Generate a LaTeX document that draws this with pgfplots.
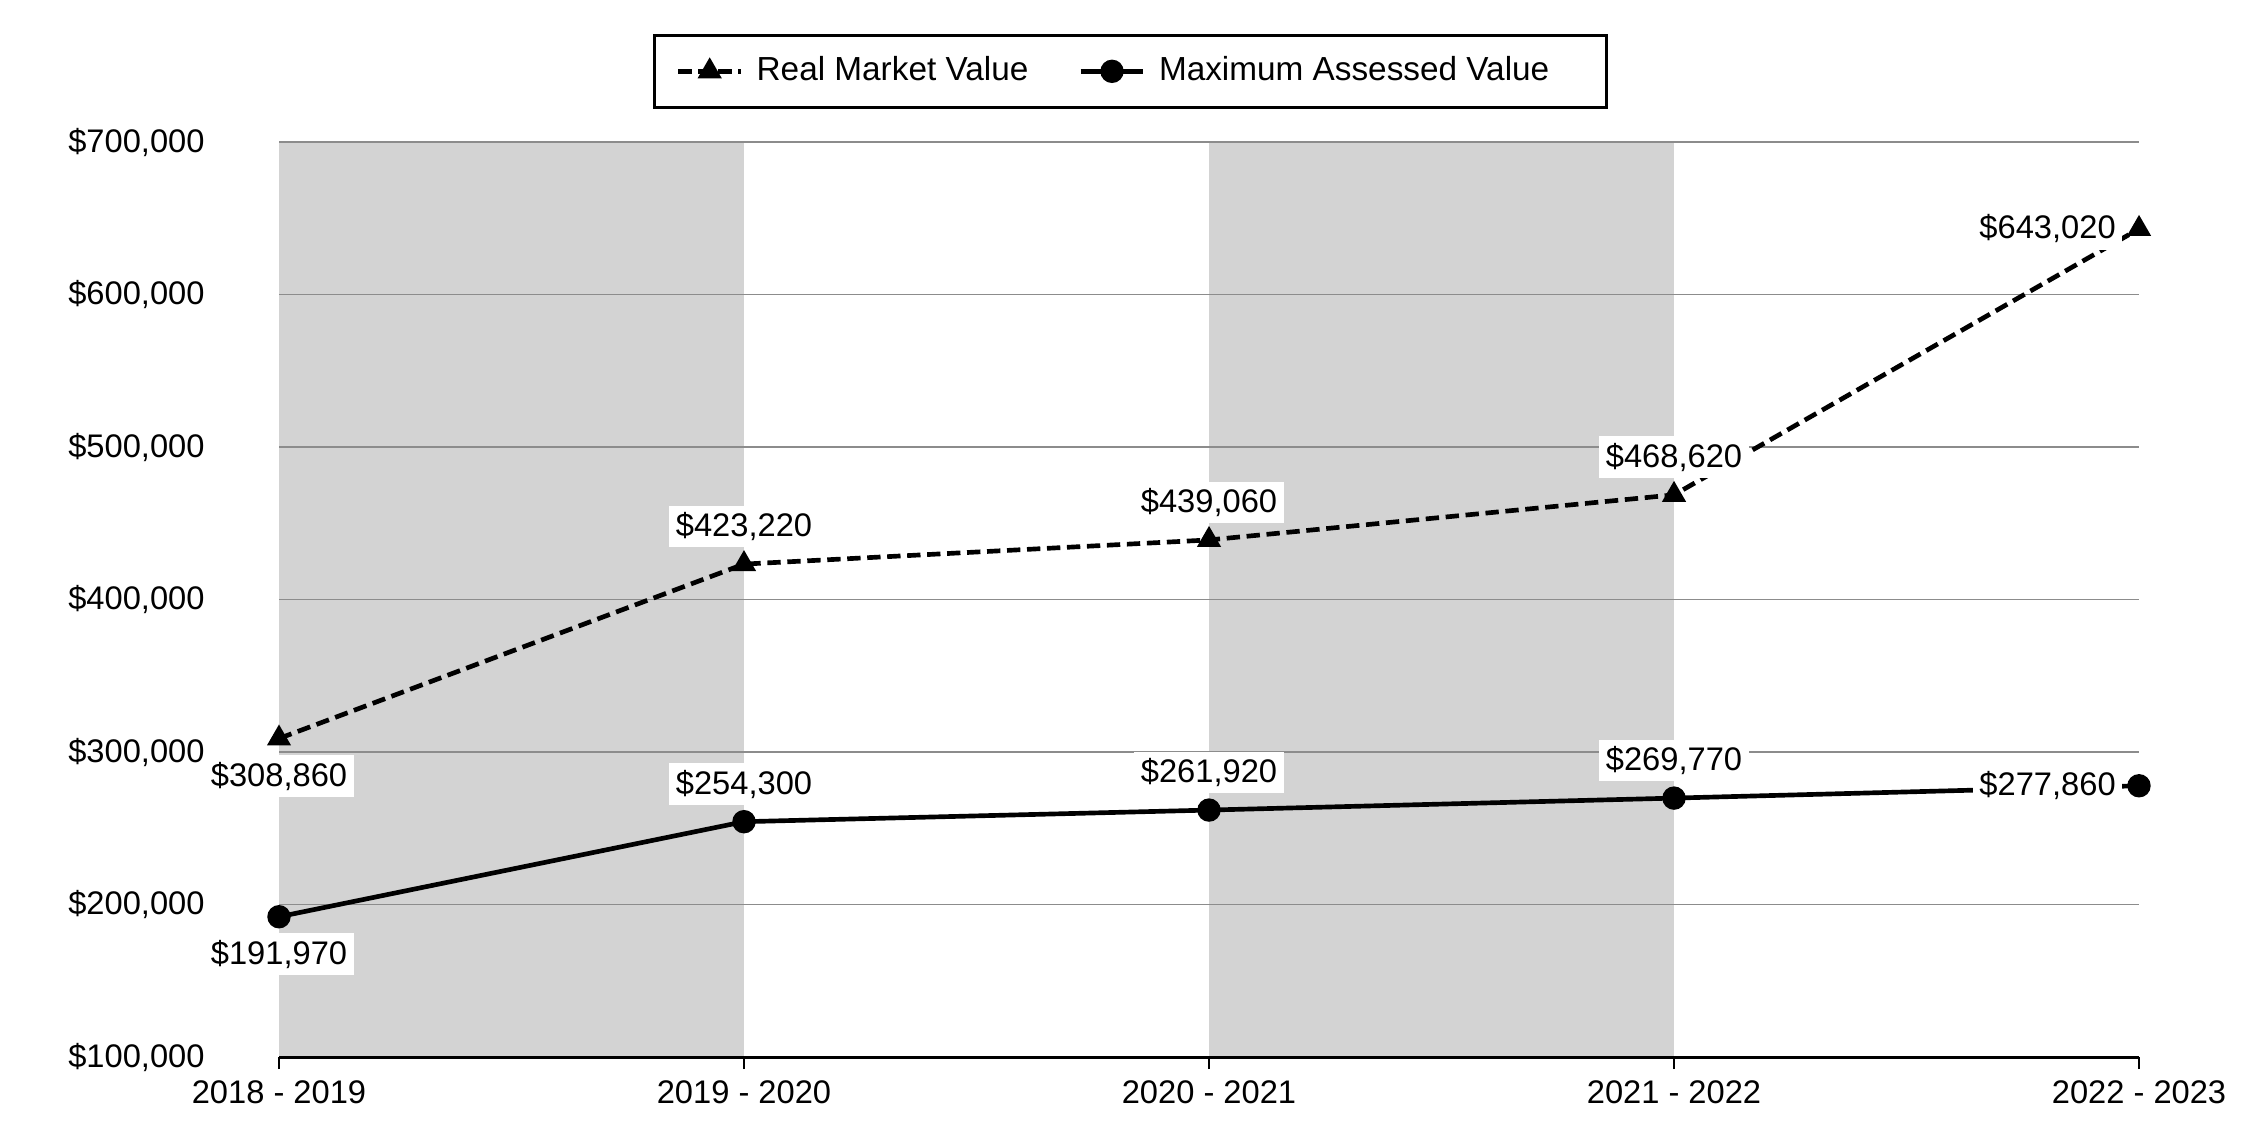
\documentclass[border=0pt]{standalone}
\usepackage{pgfplots}
\pgfplotsset{compat=1.18}
\usepackage{fontspec}
\setmainfont{Liberation Sans}
\definecolor{band}{RGB}{211,211,211}
\definecolor{gridgray}{RGB}{140,140,140}

\begin{document}
\begin{tikzpicture}
\begin{axis}[
  set layers,
  scale only axis,
  width=558pt, height=274.5pt,
  xmin=0, xmax=4, ymin=100000, ymax=700000,
  scaled y ticks=false,
  xtick={0,1,2,3,4},
  xticklabels={2018 - 2019, 2019 - 2020, 2020 - 2021, 2021 - 2022, 2022 - 2023},
  ytick={100000,200000,300000,400000,500000,600000,700000},
  yticklabels={{\$100,000},{\$200,000},{\$300,000},{\$400,000},{\$500,000},{\$600,000},{\$700,000}},
  font=\fontsize{9.8}{11.5}\selectfont,
  tick label style={font=\fontsize{9.8}{11.5}\selectfont},
  axis x line*=bottom,
  axis y line*=left,
  y axis line style={draw=none},
  x axis line style={line width=0.9pt, -},
  xtick style={draw=black, line width=0.4pt},
  ytick style={draw=none},
  tick align=outside,
  major tick length=3.6pt,
  y tick label style={anchor=east, xshift=-15.2pt},
  ymajorgrids,
  grid style={gridgray, line width=0.5pt},
  legend columns=2,
  legend style={at={(0.4578,1.036)}, anchor=south, draw=black, line width=0.9pt,
    font=\fontsize{10}{11.5}\selectfont, inner xsep=6.5pt, inner ysep=4.5pt,
    /tikz/every odd column/.append style={column sep=2pt},
    /tikz/every even column/.append style={column sep=13pt}},
  legend cell align=left,
  legend image code/.code={\draw[mark repeat=2,mark phase=2,#1] plot coordinates {(0cm,0cm) (0.33cm,0cm) (0.66cm,0cm)};},
  lbl/.style={draw=none, mark=none, forget plot, point meta=explicit symbolic,
    nodes near coords,
    nodes near coords style={font=\fontsize{9.8}{11.5}\selectfont, fill=white, inner sep=2pt, outer sep=5pt, text=black, anchor=#1}},
]
\addplot[fill=band, draw=none, on layer=axis background, forget plot]
  coordinates {(0,100000) (0,700000) (1,700000) (1,100000)} -- cycle;
\addplot[fill=band, draw=none, on layer=axis background, forget plot]
  coordinates {(2,100000) (2,700000) (3,700000) (3,100000)} -- cycle;

\addplot[black, line width=1.4pt, dash pattern=on 4pt off 2pt,
  mark=triangle*, mark size=2.8pt, mark options={solid}]
  coordinates {(0,308860) (1,423220) (2,439060) (3,468620) (4,643020)};
\addlegendentry{Real Market Value}

\addplot[black, line width=1.4pt, mark=*, mark size=2.8pt]
  coordinates {(0,191970) (1,254300) (2,261920) (3,269770) (4,277860)};
\addlegendentry{Maximum Assessed Value\rule{8.7pt}{0pt}}

\addplot[lbl=north] coordinates {(0,308860) [\$308,860] (0,191970) [\$191,970]};
\addplot[lbl=south] coordinates {(1,423220) [\$423,220] (2,439060) [\$439,060] (3,468620) [\$468,620]
  (1,254300) [\$254,300] (2,261920) [\$261,920] (3,269770) [\$269,770]};
\addplot[lbl=east] coordinates {(4,643020) [\$643,020] (4,277860) [\$277,860]};

\coordinate (SW) at (rel axis cs:0,0);
\coordinate (NE) at (rel axis cs:1,1);
\end{axis}
\pgfresetboundingbox
\path[use as bounding box] ([xshift=-83.7pt,yshift=-24.9pt]SW) rectangle ([xshift=33.3pt,yshift=42.6pt]NE);
\end{tikzpicture}
\end{document}
